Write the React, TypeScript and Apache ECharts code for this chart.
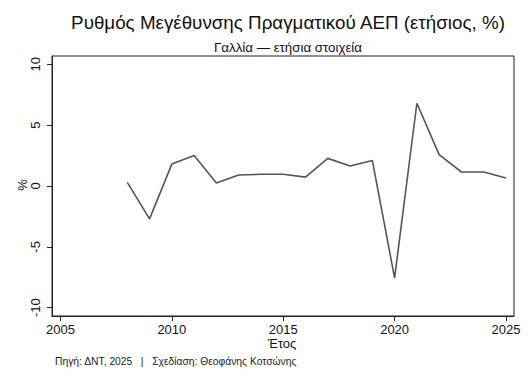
import React, { useEffect, useRef } from "react";
import * as echarts from "echarts";

const years = [2008, 2009, 2010, 2011, 2012, 2013, 2014, 2015, 2016, 2017, 2018, 2019, 2020, 2021, 2022, 2023, 2024, 2025];
const growth = [0.3, -2.7, 1.8, 2.5, 0.25, 0.9, 0.96, 0.96, 0.73, 2.27, 1.64, 2.1, -7.55, 6.8, 2.58, 1.15, 1.15, 0.66];
const xTicks = [2005, 2010, 2015, 2020, 2025];
const yTicks = [-10, -5, 0, 5, 10];

const titleText = "Ρυθμός Μεγέθυνσης Πραγματικού ΑΕΠ (ετήσιος, %)";
const subtitleText = "Γαλλία — ετήσια στοιχεία";
const xName = "Έτος";
const yName = "%";
const footerText = "Πηγή: ΔΝΤ, 2025   |   Σχεδίαση: Θεοφάνης Κοτσώνης";

const FONT = "Liberation Sans, Arial, Helvetica, sans-serif";

export default function App() {
  const ref = useRef<HTMLDivElement>(null);
  useEffect(() => {
    if (!ref.current) return;
    const chart = echarts.init(ref.current, null, { renderer: "svg" });
    chart.setOption({
      animation: false,
      backgroundColor: "#ffffff",
      textStyle: { fontFamily: FONT },
      title: [
        {
          text: titleText,
          left: 283,
          top: 8,
          textAlign: "center",
          textStyle: { fontFamily: FONT, fontSize: 18.8, fontWeight: "normal", color: "#111" },
        },
        {
          text: subtitleText,
          left: 283,
          top: 36,
          textAlign: "center",
          textStyle: { fontFamily: FONT, fontSize: 13.3, fontWeight: "normal", color: "#111" },
        },
      ],
      grid: {
        left: 52,
        right: 14,
        top: 56,
        bottom: 68,
        show: true,
        borderColor: "#222",
        borderWidth: 1,
        backgroundColor: "#fff",
      },
      xAxis: {
        type: "value",
        min: 2004.62,
        max: 2025.36,
        axisLine: { show: true, onZero: false, lineStyle: { color: "#222", width: 1 } },
        axisTick: { show: true, length: 5, customValues: xTicks, lineStyle: { color: "#222" } },
        axisLabel: {
          customValues: xTicks,
          fontFamily: FONT,
          fontSize: 13,
          color: "#111",
          margin: 7,
          formatter: (v: number) => String(v),
        },
        splitLine: { show: false },
      },
      yAxis: {
        type: "value",
        min: -10.68,
        max: 10.68,
        axisLine: { show: true, onZero: false, lineStyle: { color: "#222", width: 1 } },
        axisTick: { show: true, length: 5, customValues: yTicks, lineStyle: { color: "#222" } },
        axisLabel: {
          customValues: yTicks,
          rotate: 90,
          fontFamily: FONT,
          fontSize: 13,
          color: "#111",
          margin: 10,
          formatter: (v: number) => String(v),
        },
        splitLine: { show: false },
      },
      graphic: [
        {
          type: "text",
          x: 282,
          y: 343,
          style: {
            text: xName,
            fontFamily: FONT,
            fontSize: 13,
            fill: "#111",
            align: "center",
            verticalAlign: "middle",
          },
        },
        {
          type: "text",
          x: 22,
          y: 185,
          rotation: Math.PI / 2,
          style: {
            text: yName,
            fontFamily: FONT,
            fontSize: 13,
            fill: "#111",
            align: "center",
            verticalAlign: "middle",
          },
        },
        {
          type: "text",
          left: 55,
          top: 356,
          style: { text: footerText, fontFamily: FONT, fontSize: 10.3, fill: "#222" },
        },
      ],
      series: [
        {
          type: "line",
          data: years.map((y, i) => [y, growth[i]]),
          symbol: "none",
          lineStyle: { color: "#555", width: 1.6 },
        },
      ],
    });
    return () => chart.dispose();
  }, []);
  return <div ref={ref} style={{ position: "absolute", left: 0, top: 0, width: 528, height: 384 }} />;
}
